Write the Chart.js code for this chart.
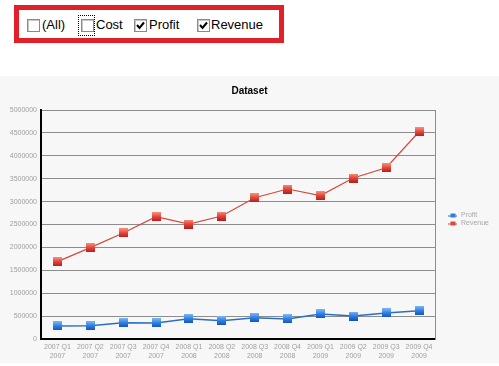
<!DOCTYPE html>
<html>
<head>
<meta charset="utf-8">
<script src="https://cdn.jsdelivr.net/npm/chart.js@4.4.1/dist/chart.umd.min.js"></script>
<style>
  html, body { margin: 0; padding: 0; background: #fff; width: 499px; height: 366px; overflow: hidden; }
  #filter { position: absolute; left: 14px; top: 5px; width: 260px; height: 28px; border: 5px solid #e2202a; }
  .box { position: absolute; top: 19px; width: 11px; height: 11px; border: 1px solid #8a8a8a; background: #fff;
         box-shadow: inset 1px 1px 0 #c8c8c8; }
  .box svg { position: absolute; left: 1px; top: 1px; }
  .lbl { position: absolute; top: 17px; line-height: 16px; font: 13px "Liberation Sans", Arial, sans-serif; color: #000; }
  #focus { position: absolute; left: 78px; top: 15px; width: 15px; height: 19px; border: 1px dotted #000; }
  #wrap { position: absolute; left: 0; top: 76px; width: 499px; height: 287px; background: #f7f7f7; }
</style>
</head>
<body>
<div id="filter"></div>
<div class="box" style="left:27px"></div><div class="lbl" style="left:42px">(All)</div>
<div id="focus"></div>
<div class="box" style="left:81px"></div><div class="lbl" style="left:96px">Cost</div>
<div class="box" style="left:134px"><svg width="9" height="9"><polyline points="1,4 3.5,7 8,1.5" fill="none" stroke="#000" stroke-width="2"/></svg></div>
<div class="lbl" style="left:149px">Profit</div>
<div class="box" style="left:197px"><svg width="9" height="9"><polyline points="1,4 3.5,7 8,1.5" fill="none" stroke="#000" stroke-width="2"/></svg></div>
<div class="lbl" style="left:211px">Revenue</div>

<div id="wrap"><canvas id="chart" width="499" height="287"></canvas></div>

<script>
// quarters shown on the x axis (two lines each)
const categories = [
    ['2007 Q1', '2007'], ['2007 Q2', '2007'], ['2007 Q3', '2007'], ['2007 Q4', '2007'],
    ['2008 Q1', '2008'], ['2008 Q2', '2008'], ['2008 Q3', '2008'], ['2008 Q4', '2008'],
    ['2009 Q1', '2009'], ['2009 Q2', '2009'], ['2009 Q3', '2009'], ['2009 Q4', '2009']
];
const profit = [285000, 290000, 355000, 350000, 443000, 400000, 465000, 437000, 546000, 502000, 568000, 618000];
const revenue = [1690000, 1995000, 2315000, 2670000, 2510000, 2685000, 3085000, 3275000, 3130000, 3515000, 3740000, 4525000];
const yMin = 0;
const yMax = 5000000;
const yStep = 500000;

const FONT = '"Liberation Sans", Arial, sans-serif';

// little shaded square used as the point marker
function makeMarker(top, mid, bottom) {
    const c = document.createElement('canvas');
    c.width = 9;
    c.height = 9;
    const g = c.getContext('2d');
    const grad = g.createLinearGradient(0, 0, 0, 9);
    grad.addColorStop(0, top);
    grad.addColorStop(0.5, mid);
    grad.addColorStop(1, bottom);
    g.fillStyle = grad;
    g.fillRect(0, 0, 9, 9);
    return c;
}

// legend icon : line with a small square on it
function makeLegendIcon(line, fill) {
    const c = document.createElement('canvas');
    c.width = 9;
    c.height = 6;
    const g = c.getContext('2d');
    g.fillStyle = line;
    g.fillRect(0, 3, 9, 1);
    g.fillStyle = fill;
    g.fillRect(2, 1, 5, 4);
    return c;
}

const blueMarker = makeMarker('#7ab8f7', '#2f7ee0', '#1553bd');
const redMarker = makeMarker('#f7907f', '#e2463a', '#b61d1d');
const legendIcons = [makeLegendIcon('#2c6fc0', '#2f7ee0'), makeLegendIcon('#d2493c', '#e2463a')];

const ctx = document.getElementById('chart').getContext('2d');

new Chart(ctx, {
    type: 'line',
    data: {
        labels: categories,
        datasets: [
            {
                label: 'Profit',
                data: profit,
                borderColor: '#2c6fc0',
                borderWidth: 1.5,
                pointStyle: blueMarker,
                pointRadius: 5,
                tension: 0,
                yAxisID: 'y'
            },
            {
                label: 'Revenue',
                data: revenue,
                borderColor: '#d2493c',
                borderWidth: 1.2,
                pointStyle: redMarker,
                pointRadius: 5,
                tension: 0,
                yAxisID: 'y'
            }
        ]
    },
    options: {
        responsive: false,
        animation: false,
        devicePixelRatio: 1,
        layout: {
            padding: { left: 0, right: 0, top: 0, bottom: 0 }
        },
        plugins: {
            title: {
                display: true,
                text: 'Dataset',
                color: '#000',
                font: { family: FONT, size: 10, weight: 'bold' },
                padding: { top: 9, bottom: 13 }
            },
            legend: {
                display: true,
                position: 'right',
                labels: {
                    usePointStyle: true,
                    pointStyleWidth: 9,
                    boxHeight: 7,
                    padding: 1,
                    color: '#a8a8a8',
                    font: { family: FONT, size: 7 },
                    generateLabels: function(chart) {
                        const items = Chart.defaults.plugins.legend.labels.generateLabels(chart);
                        items.forEach((it, i) => { it.pointStyle = legendIcons[i]; });
                        return items;
                    }
                }
            },
            tooltip: { enabled: false }
        },
        scales: {
            x: {
                offset: true,
                grid: { display: false, drawTicks: false },
                border: { color: '#000', width: 2 },
                ticks: {
                    color: '#a0a0a0',
                    font: { family: FONT, size: 7 },
                    padding: 4,
                    maxRotation: 0,
                    autoSkip: false
                },
                afterFit: function(scale) { scale.height = 24; }
            },
            y: {
                min: yMin,
                max: yMax,
                grid: { color: '#8c8c8c', lineWidth: 1, drawTicks: false },
                border: { color: '#000', width: 2 },
                ticks: {
                    stepSize: yStep,
                    color: '#a0a0a0',
                    font: { family: FONT, size: 7 },
                    padding: 4,
                    callback: function(value) { return String(value); }
                },
                afterFit: function(scale) { scale.width = 41; }
            },
            y2: {
                position: 'right',
                min: yMin,
                max: yMax,
                grid: { display: false, drawTicks: false },
                border: { color: '#8c8c8c', width: 1 },
                ticks: { display: false },
                afterFit: function(scale) { scale.width = 12; }
            }
        }
    }
});
</script>
</body>
</html>
